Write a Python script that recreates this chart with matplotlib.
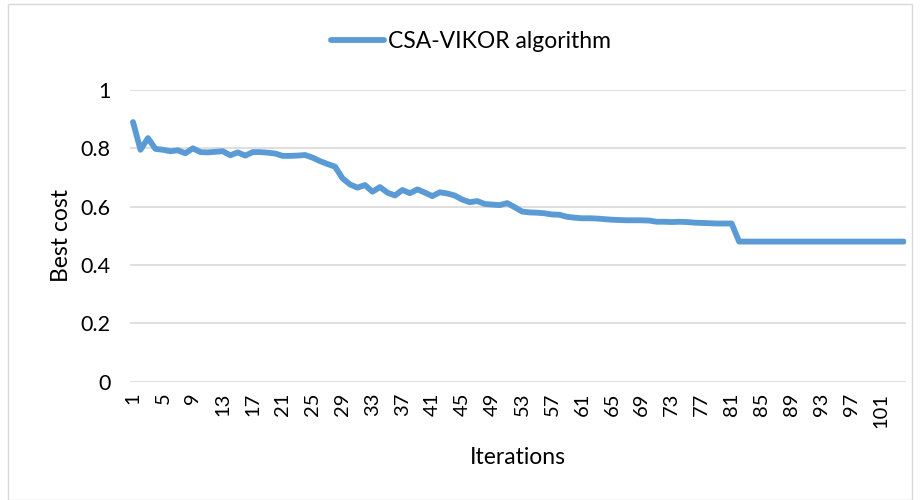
import matplotlib.pyplot as plt
from matplotlib.patches import Rectangle
import numpy as np

plt.rcParams['font.family'] = ['Lato', 'DejaVu Sans']

# best cost per iteration
best_cost = [0.890, 0.795, 0.835, 0.798, 0.795, 0.790, 0.793, 0.783, 0.800, 0.787,
             0.786, 0.788, 0.790, 0.776, 0.786, 0.775, 0.787, 0.787, 0.785, 0.782,
             0.774, 0.774, 0.775, 0.777, 0.768, 0.756, 0.746, 0.737, 0.697, 0.676,
             0.665, 0.674, 0.651, 0.667, 0.648, 0.638, 0.657, 0.646, 0.659, 0.648,
             0.636, 0.649, 0.645, 0.638, 0.624, 0.615, 0.619, 0.609, 0.607, 0.605,
             0.612, 0.598, 0.583, 0.580, 0.579, 0.577, 0.573, 0.572, 0.565, 0.562,
             0.560, 0.560, 0.559, 0.557, 0.555, 0.554, 0.553, 0.553, 0.553, 0.552,
             0.548, 0.548, 0.547, 0.548, 0.547, 0.545, 0.544, 0.543, 0.542, 0.542,
             0.542] + [0.480] * 23
iterations = np.arange(1, len(best_cost) + 1)
xtick_labels = iterations[::4]
ytick_values = [0, 0.2, 0.4, 0.6, 0.8, 1.0]
ytick_labels = ['0', '0.2', '0.4', '0.6', '0.8', '1']

W, H = 921, 500
fig = plt.figure(figsize=(W / 100, H / 100), dpi=100)
ax = fig.add_axes([130 / W, 1 - 381.5 / H, (906 - 130) / W, (381.5 - 90) / H])

line, = ax.plot(iterations, best_cost, color='#5b9bd5', lw=4.2,
                solid_capstyle='round', solid_joinstyle='round',
                label='CSA-VIKOR algorithm')

ax.set_xlim(0.6, 104.3)
ax.set_ylim(0, 1)
ax.set_yticks(ytick_values)
ax.set_yticklabels(ytick_labels)
ax.set_xticks(xtick_labels)
ax.set_xticklabels([str(v) for v in xtick_labels], rotation=90)
ax.tick_params(axis='y', length=0, labelsize=15.5, colors='#000000', pad=14)
ax.tick_params(axis='x', length=0, labelsize=14.5, colors='#000000', pad=8)
ax.grid(axis='y', color='#d9d9d9', lw=1.2)
ax.set_axisbelow(True)
for s in ax.spines.values():
    s.set_visible(False)

ax.set_ylabel('Best cost', fontsize=16.5, labelpad=6)
ax.set_xlabel('Iterations', fontsize=16.5, labelpad=14)

fig.legend(handles=[line], loc='center', bbox_to_anchor=(471 / W, 1 - 42 / H),
           frameon=False, fontsize=16.5, handlelength=2.3, handletextpad=0.2)

# chart area border
fig.patches.append(Rectangle((8 / W, 0.5 / H), (912 - 8) / W, (496 - 0.5) / H,
                             transform=fig.transFigure, fill=False,
                             edgecolor='#d9d9d9', lw=1))

fig.savefig('out.png', dpi=100)
